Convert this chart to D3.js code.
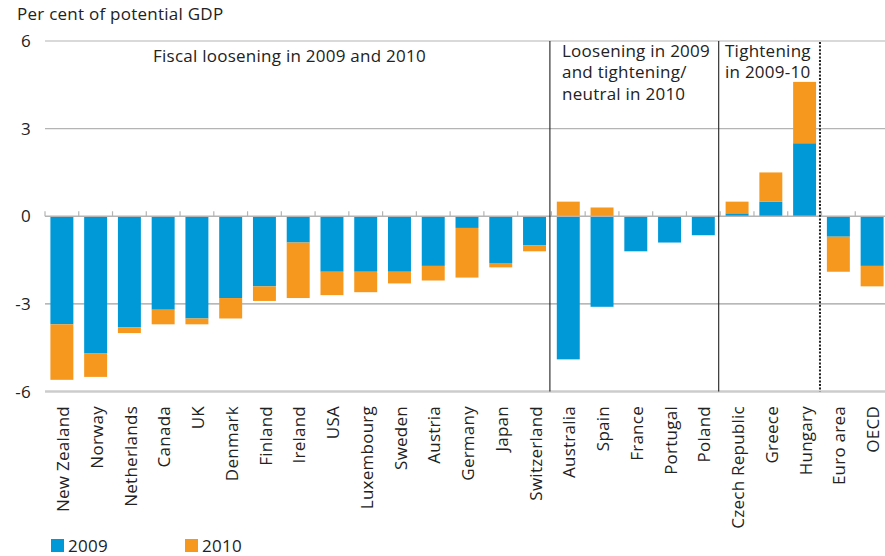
<!DOCTYPE html>
<html><head><meta charset="utf-8">
<script src="https://cdn.jsdelivr.net/npm/d3@7"></script>
<style>body{margin:0;background:#fff}svg{display:block;font-family:"Open Sans",sans-serif;letter-spacing:0.25px}</style>
</head><body><svg id="c" width="885" height="556"></svg>
<script>
const categories = ["New Zealand","Norway","Netherlands","Canada","UK","Denmark","Finland","Ireland","USA","Luxembourg","Sweden","Austria","Germany","Japan","Switzerland","Australia","Spain","France","Portugal","Poland","Czech Republic","Greece","Hungary","Euro area","OECD"];
const values2009 = [-3.7,-4.7,-3.8,-3.2,-3.5,-2.8,-2.4,-0.9,-1.9,-1.9,-1.9,-1.7,-0.4,-1.6,-1.0,-4.9,-3.1,-1.2,-0.9,-0.65,0.1,0.5,2.5,-0.7,-1.7];
const values2010 = [-1.9,-0.8,-0.2,-0.5,-0.2,-0.7,-0.5,-1.9,-0.8,-0.7,-0.4,-0.5,-1.7,-0.15,-0.2,0.5,0.3,0,0,0,0.4,1.0,2.1,-1.2,-0.7];
const seriesNames = ["2009","2010"];
const yTicks = [-6,-3,0,3,6];
const groupLabels = [
  {lines:["Fiscal loosening in 2009 and 2010"], at:"New Zealand"},
  {lines:["Loosening in 2009","and tightening/","neutral in 2010"], at:"Australia"},
  {lines:["Tightening","in 2009-10"], at:"Czech Republic"}
];
const solidDividers = ["Australia","Czech Republic"];
const dottedDividers = ["Euro area"];
const colors = {"2009":"#0099d8","2010":"#f7981e"};

const svg = d3.select("#c");
const x = d3.scaleBand().domain(categories).range([45, 45 + 33.76*25]).paddingInner(0.32).paddingOuter(0.16);
const y = d3.scaleLinear().domain([-6,6]).range([391.5, 41]);
const FS = 17;

const rows = categories.map((c,i)=>({cat:c,"2009":values2009[i],"2010":values2010[i]}));
const stack = d3.stack().keys(seriesNames).offset(d3.stackOffsetDiverging)(rows);

// gridlines
yTicks.forEach(t=>{
  if(t===0) return;
  svg.append("line").attr("x1",45).attr("x2",885).attr("y1",y(t)).attr("y2",y(t))
    .attr("stroke", t===-6 ? "#cccccc" : (t===-3 ? "#a0a0a0" : "#b4b4b4"))
    .attr("stroke-width", t===-6 ? 2.5 : 1.2);
});
// y labels
svg.append("g").selectAll("text").data(yTicks).join("text")
  .attr("x",31).attr("y",d=>y(d)).attr("dy","0.36em").attr("text-anchor","end")
  .attr("font-size",FS).attr("fill","#222").text(d=>d);

svg.append("text").attr("x",17).attr("y",20).attr("font-size",FS).attr("fill","#222").text("Per cent of potential GDP");

// bars
stack.forEach(s=>{
  svg.append("g").attr("fill",colors[s.key]).selectAll("rect").data(s).join("rect")
    .attr("x",d=>x(d.data.cat)).attr("width",x.bandwidth())
    .attr("y",d=>y(Math.max(d[0],d[1]))).attr("height",d=>Math.abs(y(d[0])-y(d[1])));
});

// zero axis with ticks
svg.append("line").attr("x1",45).attr("x2",885).attr("y1",y(0)).attr("y2",y(0)).attr("stroke","#b4b4b4").attr("stroke-width",1.5);
const step = x.step();
const bounds = d3.range(categories.length+1).map(i=>45+i*step);
svg.append("g").selectAll("line").data(bounds).join("line")
  .attr("x1",d=>d).attr("x2",d=>d).attr("y1",y(0)-5).attr("y2",y(0))
  .attr("stroke","#b4b4b4").attr("stroke-width",1.2);

// dividers
solidDividers.forEach(c=>{
  const xv = x(c) - x.step()*x.paddingInner()/2 - 1.5;
  svg.append("line").attr("x1",xv).attr("x2",xv).attr("y1",y(6)).attr("y2",y(-6))
    .attr("stroke","#222").attr("stroke-width",1.1);
});
dottedDividers.forEach(c=>{
  const xv = x(c) - x.step()*x.paddingInner()/2 - 1.5;
  svg.append("line").attr("x1",xv).attr("x2",xv).attr("y1",y(6)+1).attr("y2",y(-6))
    .attr("stroke","#222").attr("stroke-width",2).attr("stroke-dasharray","2,1.6");
});

// group labels
const gx = {"New Zealand":[153,62], "Australia":[562,57], "Czech Republic":[725,57]};
groupLabels.forEach(g=>{
  const t = svg.append("text").attr("font-size",FS).attr("fill","#222");
  g.lines.forEach((l,i)=>{
    t.append("tspan").attr("x",gx[g.at][0]).attr("y",gx[g.at][1]+i*21.3).text(l);
  });
});

// x labels
svg.append("g").selectAll("text").data(categories).join("text")
  .attr("transform",d=>`translate(${x(d)+x.bandwidth()/2+1},${406}) rotate(-90)`)
  .attr("text-anchor","end").attr("dy","0.36em").attr("font-size",FS).attr("fill","#222").text(d=>d);

// legend
seriesNames.forEach((k,i)=>{
  const lx = 51 + i*134;
  svg.append("rect").attr("x",lx).attr("y",539).attr("width",13).attr("height",13).attr("fill",colors[k]);
  svg.append("text").attr("x",lx+17).attr("y",552).attr("font-size",FS).attr("fill","#222").text(k);
});
</script></body></html>
